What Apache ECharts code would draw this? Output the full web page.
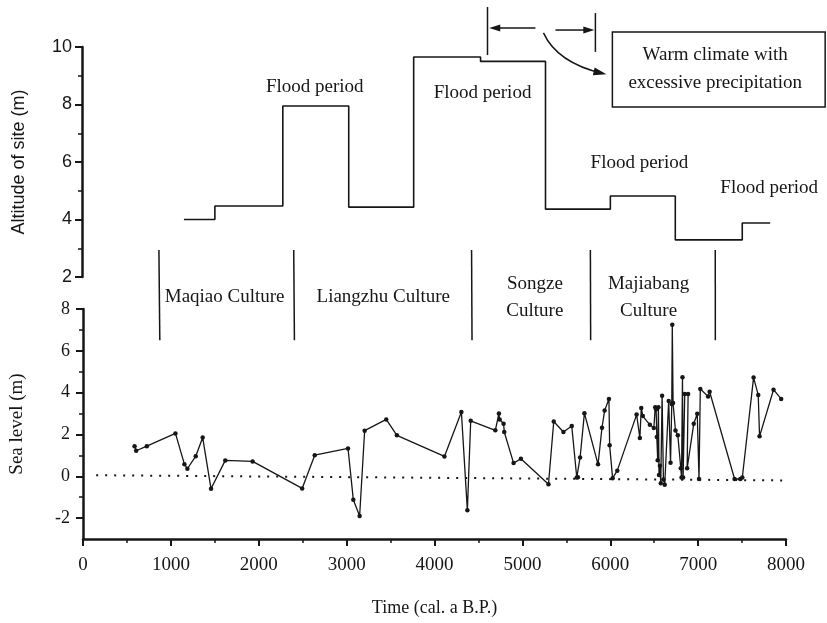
<!DOCTYPE html>
<html><head><meta charset="utf-8">
<script src="https://cdn.jsdelivr.net/npm/echarts@6/dist/echarts.min.js"></script>
<style>html,body{margin:0;padding:0;background:#fff}#c{width:827px;height:623px}</style>
</head><body><div id="c"></div><script>
// ---- Top panel: altitude of site (step line) ----
const stepTime = [1158, 1510, 2282, 3031, 3769, 4529, 5267, 6004, 6742, 7503, 7820];
const stepAltitude = [4.0, 4.47, 7.95, 4.43, 9.65, 9.5, 4.36, 4.82, 3.29, 3.88, 3.88];

// ---- Bottom panel: sea level points ----
const seaTime = [587, 605, 726, 1052, 1154, 1188, 1283, 1362, 1457, 1619, 1930, 2494, 2637, 3016, 3076, 3148, 3205, 3451, 3572, 4113, 4306, 4374, 4412, 4692, 4733, 4741, 4786, 4794, 4900, 4983, 5297, 5357, 5467, 5562, 5619, 5632, 5657, 5706, 5861, 5906, 5936, 5985, 5993, 6027, 6080, 6300, 6337, 6353, 6371, 6451, 6496, 6512, 6522, 6530, 6540, 6548, 6555, 6565, 6575, 6590, 6605, 6620, 6665, 6686, 6700, 6706, 6715, 6742, 6769, 6803, 6811, 6822, 6829, 6848, 6886, 6875, 6950, 6990, 7010, 7025, 7113, 7131, 7415, 7480, 7503, 7631, 7684, 7699, 7858, 7945];
const seaLevel = [1.44, 1.22, 1.44, 2.05, 0.58, 0.36, 0.96, 1.85, -0.6, 0.76, 0.71, -0.58, 1.01, 1.33, -1.12, -1.9, 2.18, 2.72, 1.96, 0.95, 3.07, -1.63, 2.65, 2.2, 3.0, 2.72, 2.51, 2.12, 0.63, 0.84, -0.38, 2.62, 2.12, 2.4, -0.06, -0.05, 0.9, 3.02, 0.57, 2.32, 3.14, 3.7, 1.48, -0.09, 0.27, 2.95, 1.83, 3.27, 2.88, 2.46, 2.31, 3.3, 3.2, 1.88, 0.77, 3.3, 0.06, 0.5, -0.33, 3.85, -0.15, -0.4, 3.6, 0.65, 3.46, 7.25, 3.5, 2.19, 1.96, 0.38, -0.06, 4.74, -0.06, 3.93, 3.93, 0.38, 2.51, 2.99, -0.13, 4.17, 3.82, 4.04, -0.13, -0.13, -0.06, 4.72, 3.89, 1.91, 4.14, 3.7];

// zero reference (dotted)
const zeroLineTime = [150, 8000];
const zeroLineLevel = [0.05, -0.2];

// ---- tick labels ----
const timeTicks = [0, 1000, 2000, 3000, 4000, 5000, 6000, 7000, 8000];
const altitudeTicks = [2, 4, 6, 8, 10];
const seaTicks = [-2, 0, 2, 4, 6, 8];
const seaMinorTicks = [-1, 1, 3, 5, 7];

// ---- annotations ----
const cultureBounds = [874, 2406, 4427, 5777, 7196];
const cultureNames = ['Maqiao Culture', 'Liangzhu Culture', 'Songze\nCulture', 'Majiabang\nCulture'];
const cultureLabelTime = [1612, 3417, 5142, 6436];
const floodTime = [2645, 4552, 6334, 7809];
const floodAlt = [8.61, 8.4, 5.97, 5.1];
const warmBracket = [4608, 5834];

const SERIF = '"Liberation Serif", "Times New Roman", serif';
const SANS = '"Liberation Sans", Arial, sans-serif';
const INK = '#161616';

const chart = echarts.init(document.getElementById('c'), null, {renderer: 'canvas'});

chart.setOption({
  animation: false,
  backgroundColor: '#fff',
  grid: [
    {left: 82, width: 704, top: 47, height: 230},
    {left: 82, width: 704, top: 309, height: 230}
  ],
  xAxis: [
    {gridIndex: 0, type: 'value', min: 0, max: 8000, show: false},
    {gridIndex: 1, type: 'value', min: 0, max: 8000, interval: 1000,
     axisLine: {show: true, onZero: false, lineStyle: {color: INK, width: 2.5}},
     axisTick: {show: true, length: 7, lineStyle: {color: INK, width: 2}},
     minorTick: {show: true, splitNumber: 2, length: 4, lineStyle: {color: INK, width: 1.5}},
     axisLabel: {color: INK, fontFamily: SERIF, fontSize: 19, margin: 17,
                 customValues: timeTicks, formatter: v => String(v)},
     splitLine: {show: false},
     name: 'Time (cal. a B.P.)', nameLocation: 'middle', nameGap: 60,
     nameTextStyle: {color: INK, fontFamily: SERIF, fontSize: 18}}
  ],
  yAxis: [
    {gridIndex: 0, type: 'value', min: 2, max: 10, interval: 2,
     axisLine: {show: true, onZero: false, lineStyle: {color: INK, width: 2.5}},
     axisTick: {show: true, length: 7, lineStyle: {color: INK, width: 2}},
     minorTick: {show: true, splitNumber: 2, length: 4, lineStyle: {color: INK, width: 1.5}},
     axisLabel: {color: INK, fontFamily: SANS, fontSize: 18, margin: 10, customValues: altitudeTicks},
     splitLine: {show: false},
     name: 'Altitude of site (m)', nameLocation: 'middle', nameGap: 54,
     nameTextStyle: {color: INK, fontFamily: SANS, fontSize: 18}},
    {gridIndex: 1, type: 'value', min: -3, max: 8,
     axisLine: {show: true, onZero: false, lineStyle: {color: INK, width: 2.5}},
     axisTick: {show: true, length: 7, customValues: seaTicks, lineStyle: {color: INK, width: 2}},
     axisLabel: {color: INK, fontFamily: SERIF, fontSize: 18, margin: 13, customValues: seaTicks},
     splitLine: {show: false},
     name: 'Sea level (m)', nameLocation: 'middle', nameGap: 56,
     nameTextStyle: {color: INK, fontFamily: SERIF, fontSize: 19}},
    {gridIndex: 1, type: 'value', min: -3, max: 8, position: 'left',
     axisLine: {show: false},
     axisTick: {show: true, length: 4, customValues: seaMinorTicks, lineStyle: {color: INK, width: 1.5}},
     axisLabel: {show: false},
     splitLine: {show: false}}
  ],
  series: [
    {type: 'line', xAxisIndex: 0, yAxisIndex: 0, step: 'end', symbol: 'none',
     data: stepTime.map((t, i) => [t, stepAltitude[i]]),
     lineStyle: {color: INK, width: 1.6}},
    {type: 'line', xAxisIndex: 1, yAxisIndex: 1, symbol: 'circle', symbolSize: 4.5,
     data: seaTime.map((t, i) => [t, seaLevel[i]]),
     itemStyle: {color: INK}, lineStyle: {color: INK, width: 1.3}, z: 3},
    {type: 'line', xAxisIndex: 1, yAxisIndex: 1, symbol: 'none',
     data: zeroLineTime.map((t, i) => [t, zeroLineLevel[i]]),
     lineStyle: {color: INK, width: 2, type: [2, 7]}, z: 2}
  ]
});

function P0(t, v) { return chart.convertToPixel({xAxisIndex: 0, yAxisIndex: 0}, [t, v]); }
function P1(t, v) { return chart.convertToPixel({xAxisIndex: 1, yAxisIndex: 1}, [t, v]); }

const g = [];
const txt = (x, y, text, size, lh) => ({
  type: 'text', x: x, y: y, z: 10,
  style: {text: text, fill: INK, fontFamily: SERIF, fontSize: size, lineHeight: lh || size * 1.3,
          align: 'center', verticalAlign: 'middle', textAlign: 'center', textVerticalAlign: 'middle'}
});
const line = (a, b, w) => ({type: 'line', z: 10, shape: {x1: a[0], y1: a[1], x2: b[0], y2: b[1]},
  style: {stroke: INK, lineWidth: w || 1.5}});

// culture dividers
cultureBounds.forEach(t => {
  g.push(line(P0(t, 2.94), P1(t, 6.5), 1.5));
});
// culture labels
cultureNames.forEach((n, i) => {
  const p = P1(cultureLabelTime[i], 8.57);
  g.push(txt(p[0], p[1], n, 19, 27));
});
// flood labels
floodTime.forEach((t, i) => {
  const p = P0(t, floodAlt[i]);
  g.push(txt(p[0], p[1], 'Flood period', 19));
});
// warm-climate box
const bx0 = P0(6027, 10.52), bx1 = P0(8445, 7.91);
g.push({type: 'rect', z: 10, shape: {x: bx0[0], y: bx0[1], width: bx1[0] - bx0[0], height: bx1[1] - bx0[1]},
        style: {fill: 'none', stroke: INK, lineWidth: 1.5}});
const bt = P0(7195, 9.22);
g.push(txt(bt[0], bt[1], 'Warm climate with\nexcessive precipitation', 19, 28));
// bracket
const bl0 = P0(warmBracket[0], 11.39), bl1 = P0(warmBracket[0], 9.72);
const br0 = P0(warmBracket[1], 11.18), br1 = P0(warmBracket[1], 9.83);
g.push(line(bl0, bl1, 1.5));
g.push(line(br0, br1, 1.5));
const la = P0(5153, 10.66), lb = P0(warmBracket[0] + 20, 10.66);
g.push(line(la, [lb[0] + 8, lb[1]], 1.5));
g.push({type: 'polygon', z: 10, shape: {points: [[lb[0], lb[1]], [lb[0] + 11, lb[1] - 3.5], [lb[0] + 11, lb[1] + 3.5]]}, style: {fill: INK}});
const ra = P0(5380, 10.59), rb = P0(warmBracket[1] - 12, 10.59);
g.push(line(ra, [rb[0] - 8, rb[1]], 1.5));
g.push({type: 'polygon', z: 10, shape: {points: [[rb[0], rb[1]], [rb[0] - 11, rb[1] - 3.5], [rb[0] - 11, rb[1] + 3.5]]}, style: {fill: INK}});
// curved arrow
const c0 = P0(5244, 10.49), cc = P0(5400, 9.45), c1 = P0(5915, 9.08);
g.push({type: 'bezierCurve', z: 10, shape: {x1: c0[0], y1: c0[1], x2: c1[0], y2: c1[1], cpx1: cc[0], cpy1: cc[1]},
        style: {stroke: INK, lineWidth: 1.5, fill: 'none'}});
(function () {
  const dx = c1[0] - cc[0], dy = c1[1] - cc[1], L = Math.hypot(dx, dy);
  const ux = dx / L, uy = dy / L, nx = -uy, ny = ux;
  const tip = [c1[0] + ux * 4, c1[1] + uy * 4];
  const base = [tip[0] - ux * 13, tip[1] - uy * 13];
  g.push({type: 'polygon', z: 10, shape: {points: [tip, [base[0] + nx * 4, base[1] + ny * 4], [base[0] - nx * 4, base[1] - ny * 4]]},
          style: {fill: INK}});
})();

chart.setOption({graphic: g});
</script></body></html>
